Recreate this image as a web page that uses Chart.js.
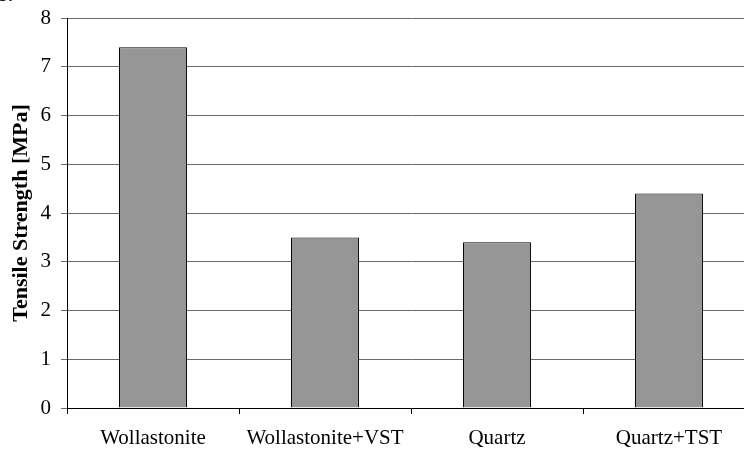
<!DOCTYPE html>
<html>
<head>
<meta charset="utf-8">
<script src="https://cdn.jsdelivr.net/npm/chart.js@4/dist/chart.umd.min.js"></script>
<style>
  html, body { margin: 0; padding: 0; background: #fff; }
  #wrap { width: 744px; height: 451px; overflow: hidden; position: relative; }
  canvas { display: block; }
</style>
</head>
<body>
<div id="wrap"><canvas id="c" width="770" height="451"></canvas></div>
<script>
// Tensile strength of the four mixtures
const categories = ['Wollastonite', 'Wollastonite+VST', 'Quartz', 'Quartz+TST'];
const tensileStrength = [7.4, 3.5, 3.4, 4.4];
const yTicks = [0, 1, 2, 3, 4, 5, 6, 7, 8];

const serif = '"Liberation Serif", "Times New Roman", serif';

// panel letter in the upper-left corner
const panelLetter = {
  id: 'panelLetter',
  afterDraw(chart) {
    const ctx = chart.ctx;
    ctx.save();
    ctx.fillStyle = '#000';
    ctx.font = 'bold 20px ' + serif;
    ctx.textBaseline = 'alphabetic';
    ctx.textAlign = 'left';
    ctx.fillText('b.', -3, 1);
    ctx.restore();
  }
};

const chart = new Chart(document.getElementById('c'), {
  type: 'bar',
  data: {
    labels: categories,
    datasets: [{
      data: tensileStrength,
      backgroundColor: '#969696',
      borderColor: '#000',
      borderWidth: 1,
      borderSkipped: 'bottom',
      categoryPercentage: 1,
      barPercentage: 0.395
    }]
  },
  options: {
    responsive: false,
    animation: false,
    layout: { padding: { left: 0, right: 15, top: 18, bottom: 0 } },
    plugins: { legend: { display: false }, tooltip: { enabled: false } },
    scales: {
      x: {
        offset: true,
        border: { display: true, color: '#000', width: 1 },
        grid: { display: true, offset: true, drawOnChartArea: false, drawTicks: true, tickLength: 6, color: '#000' },
        ticks: { color: '#000', font: { family: serif, size: 21 }, padding: 12, maxRotation: 0, autoSkip: false },
        afterFit(scale) { scale.height = 43; }
      },
      y: {
        min: 0,
        max: 8,
        afterBuildTicks(scale) { scale.ticks = yTicks.map(v => ({ value: v })); },
        border: { display: true, color: '#000', width: 1 },
        grid: { color: '#6a6a6a', lineWidth: 1, tickLength: 6, drawTicks: true },
        ticks: { color: '#000', font: { family: serif, size: 21, lineHeight: 0.1 }, padding: 10 },
        title: {
          display: true,
          text: 'Tensile Strength [MPa]',
          color: '#000',
          font: { family: serif, size: 22, weight: 'bold' },
          padding: { top: 8, bottom: 0 }
        },
        afterFit(scale) {
          scale.width = 67;
          scale.paddingTop = 0;
          scale.paddingBottom = 0;
        }
      }
    }
  },
  plugins: [panelLetter]
});
</script>
</body>
</html>
